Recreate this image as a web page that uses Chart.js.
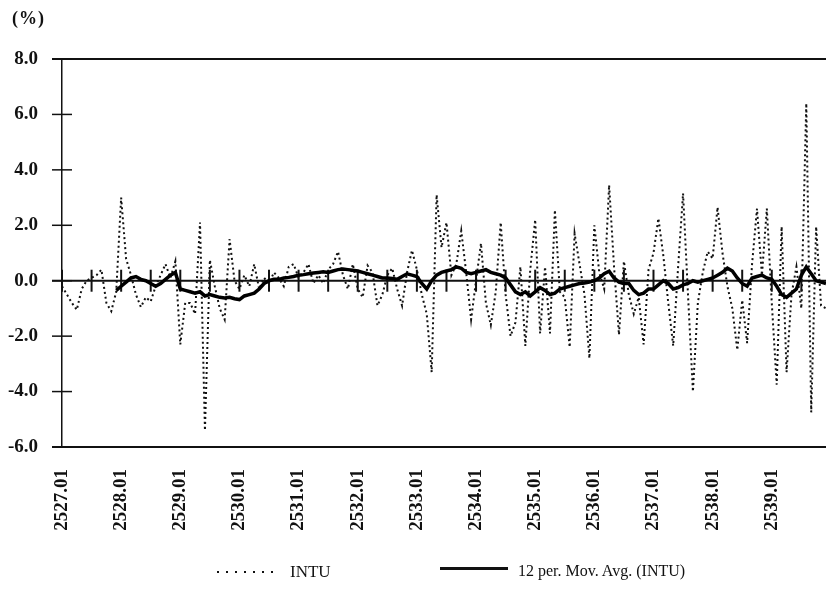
<!DOCTYPE html>
<html>
<head>
<meta charset="utf-8">
<script src="https://cdn.jsdelivr.net/npm/chart.js@4/dist/chart.umd.min.js"></script>
<style>
	html, body { margin: 0; padding: 0; background: #fff; }
	#wrap { position: relative; width: 826px; height: 599px; }
	#unit { position: absolute; left: 12px; top: 8px; font: bold 18px 'Liberation Serif', serif; color: #111; letter-spacing: 1px; }
	.legTxt { position: absolute; top: 562px; font: 16px 'Liberation Serif', serif; color: #111; white-space: nowrap; }
	#legDot { position: absolute; left: 217px; top: 571px; width: 62px; height: 2px;
		background: repeating-linear-gradient(to right, #111 0 2px, transparent 2px 9px); }
	#legLine { position: absolute; left: 440px; top: 567px; width: 68px; height: 3px; background: #111; }
</style>
</head>
<body>
<div id="wrap">
	<canvas id="grafico" width="826" height="599"></canvas>
	<div id="unit">(%)</div>
	<div id="legDot"></div>
	<div class="legTxt" style="left:290px; font-size:17px;">INTU</div>
	<div id="legLine"></div>
	<div class="legTxt" style="left:518px;">12 per. Mov. Avg. (INTU)</div>
</div>
<script>
// CATEGORIAS (ano.mes)
const anos = [2527, 2528, 2529, 2530, 2531, 2532, 2533, 2534, 2535, 2536, 2537, 2538, 2539];
const meses = ['01', '02', '03', '04', '05', '06', '07', '08', '09', '10', '11', '12'];
const rotulos = [];
anos.forEach(a => meses.forEach(m => rotulos.push(a + '.' + m)));

// ticks do eixo y
const ticksY = [-6, -4, -2, 0, 2, 4, 6, 8];

// INTU mensal (%)
const intu = [
	-0.2, -0.5, -0.8, -1.05, -0.3, 0.0, 0.1, 0.2, 0.4, -0.8, -1.1, -0.4,
	3.0, 0.8, 0.2, -0.5, -0.95, -0.6, -0.75, -0.2, 0.2, 0.6, 0.1, 0.7,
	-2.3, -0.8, -0.8, -1.2, 2.1, -5.4, 0.75, -0.2, -1.0, -1.4, 1.5, 0.0,
	-0.3, 0.2, -0.2, 0.6, -0.3, 0.1, -0.1, 0.3, 0.1, -0.2, 0.5, 0.6,
	0.1, 0.3, 0.6, -0.1, 0.2, -0.1, 0.4, 0.6, 1.05, 0.2, -0.3, 0.6,
	-0.3, -0.6, 0.55, 0.3, -0.9, -0.5, 0.2, 0.45, -0.3, -0.9, 0.3, 1.1,
	0.4, -0.5, -1.2, -3.3, 3.1, 1.2, 2.1, 0.2, 0.6, 1.8, 0.3, -1.4,
	0.0, 1.35, -0.8, -1.6, -0.4, 2.1, -0.5, -2.0, -1.5, 0.5, -2.35, 0.4,
	2.2, -1.9, 0.5, -1.9, 2.55, -0.4, -0.6, -2.4, 1.7, 0.6, -0.5, -2.8,
	2.0, 0.3, -0.3, 3.45, 0.5, -1.95, 0.7, -0.5, -1.2, -0.6, -2.3, 0.4,
	1.0, 2.25, 0.9, -0.8, -2.35, 0.5, 3.15, -0.5, -4.0, -0.8, 0.3, 1.05,
	0.8, 2.65, 1.0, -0.2, -1.0, -2.5, -0.7, -2.25, 0.6, 2.6, 0.2, 2.6,
	-0.8, -3.75, 1.95, -3.3, -0.5, 0.5, -1.0, 6.4, -4.75, 1.95, -0.9, -1.0,
];

// media movel 12 periodos
const mediaMovel = [
	null, null, null, null, null, null, null, null, null, null, null, -0.35,
	-0.2, -0.05, 0.1, 0.15, 0.05, 0.0, -0.1, -0.2, -0.1, 0.05, 0.2, 0.3,
	-0.3, -0.35, -0.4, -0.45, -0.4, -0.55, -0.5, -0.55, -0.6, -0.62, -0.6, -0.65,
	-0.68, -0.55, -0.5, -0.45, -0.3, -0.1, 0.0, 0.05, 0.05, 0.1, 0.12, 0.15,
	0.2, 0.22, 0.25, 0.28, 0.3, 0.32, 0.3, 0.35, 0.4, 0.42, 0.4, 0.38,
	0.35, 0.3, 0.25, 0.2, 0.15, 0.1, 0.1, 0.08, 0.05, 0.15, 0.25, 0.2,
	0.15, -0.1, -0.3, 0.0, 0.2, 0.3, 0.35, 0.4, 0.5, 0.45, 0.3, 0.25,
	0.3, 0.35, 0.4, 0.3, 0.25, 0.2, 0.1, -0.15, -0.4, -0.5, -0.4, -0.55,
	-0.4, -0.25, -0.35, -0.5, -0.45, -0.3, -0.25, -0.2, -0.15, -0.1, -0.08, -0.05,
	0.0, 0.1, 0.25, 0.34, 0.1, -0.05, -0.1, -0.1, -0.35, -0.5, -0.45, -0.3,
	-0.3, -0.15, 0.0, -0.1, -0.3, -0.25, -0.15, -0.1, 0.0, -0.05, 0.0, 0.05,
	0.1, 0.2, 0.3, 0.45, 0.35, 0.1, -0.1, -0.2, 0.1, 0.15, 0.2, 0.1,
	0.05, -0.2, -0.5, -0.6, -0.45, -0.3, 0.2, 0.5, 0.25, 0.0, -0.05, -0.1,
];

const fonte = "'Liberation Serif', 'Times New Roman', serif";

// linhas do quadro, linha do zero e marcas que cruzam os eixos
const marcasEixos = {
	id: 'marcasEixos',
	beforeDatasetsDraw(chart) {
		const { ctx, chartArea: a, scales: { x, y } } = chart;
		const linha = (x1, y1, x2, y2) => {
			ctx.beginPath();
			ctx.moveTo(x1, y1);
			ctx.lineTo(x2, y2);
			ctx.stroke();
		};
		ctx.save();
		ctx.strokeStyle = '#111';
		ctx.lineWidth = 2;
		linha(a.left - 10, y.getPixelForValue(8), a.right, y.getPixelForValue(8));
		linha(a.left - 10, y.getPixelForValue(-6), a.right, y.getPixelForValue(-6));
		const y0 = y.getPixelForValue(0);
		linha(a.left - 10, y0, a.right, y0);
		ctx.lineWidth = 1.5;
		ticksY.forEach(v => {
			const py = y.getPixelForValue(v);
			linha(a.left - 10, py, a.left + 10, py);
		});
		ctx.lineWidth = 2;
		for (let i = 0; i < rotulos.length; i += 6) {
			const px = x.getPixelForValue(i);
			linha(px, y0 - 11, px, y0 + 11);
		}
		ctx.restore();
	},
};

new Chart(document.getElementById('grafico'), {
	type: 'line',
	data: {
		labels: rotulos,
		datasets: [
			{
				label: 'INTU',
				data: intu,
				borderColor: '#111',
				borderWidth: 2,
				borderDash: [2, 3],
				pointRadius: 0,
				order: 2,
			},
			{
				label: '12 per. Mov. Avg. (INTU)',
				data: mediaMovel,
				borderColor: '#000',
				borderWidth: 3.5,
				pointRadius: 0,
				order: 1,
			},
		],
	},
	options: {
		responsive: false,
		animation: false,
		layout: { padding: { top: 59, right: 0, bottom: 0, left: 0 } },
		plugins: {
			legend: { display: false },
			tooltip: { enabled: false },
		},
		scales: {
			x: {
				offset: false,
				grid: { display: false, drawTicks: false },
				border: { display: false },
				ticks: {
					autoSkip: false,
					minRotation: 90,
					maxRotation: 90,
					padding: 22,
					color: '#111',
					font: { family: fonte, size: 19, weight: 'bold' },
					callback: (v, i) => (i % 12 === 0 ? rotulos[i] : ''),
				},
				afterFit: axis => {
					axis.height = 152;
					axis.paddingLeft = 0;
					axis.paddingRight = 0;
				},
			},
			y: {
				min: -6,
				max: 8,
				afterBuildTicks: axis => {
					axis.ticks = ticksY.map(v => ({ value: v }));
				},
				grid: { display: false, drawTicks: false },
				border: { display: true, color: '#111', width: 1.5 },
				ticks: {
					padding: 24,
					color: '#111',
					font: { family: fonte, size: 19, weight: 'bold' },
					callback: v => v.toFixed(1),
				},
				afterFit: axis => {
					axis.width = 62;
				},
			},
		},
	},
	plugins: [marcasEixos],
});
</script>
</body>
</html>
